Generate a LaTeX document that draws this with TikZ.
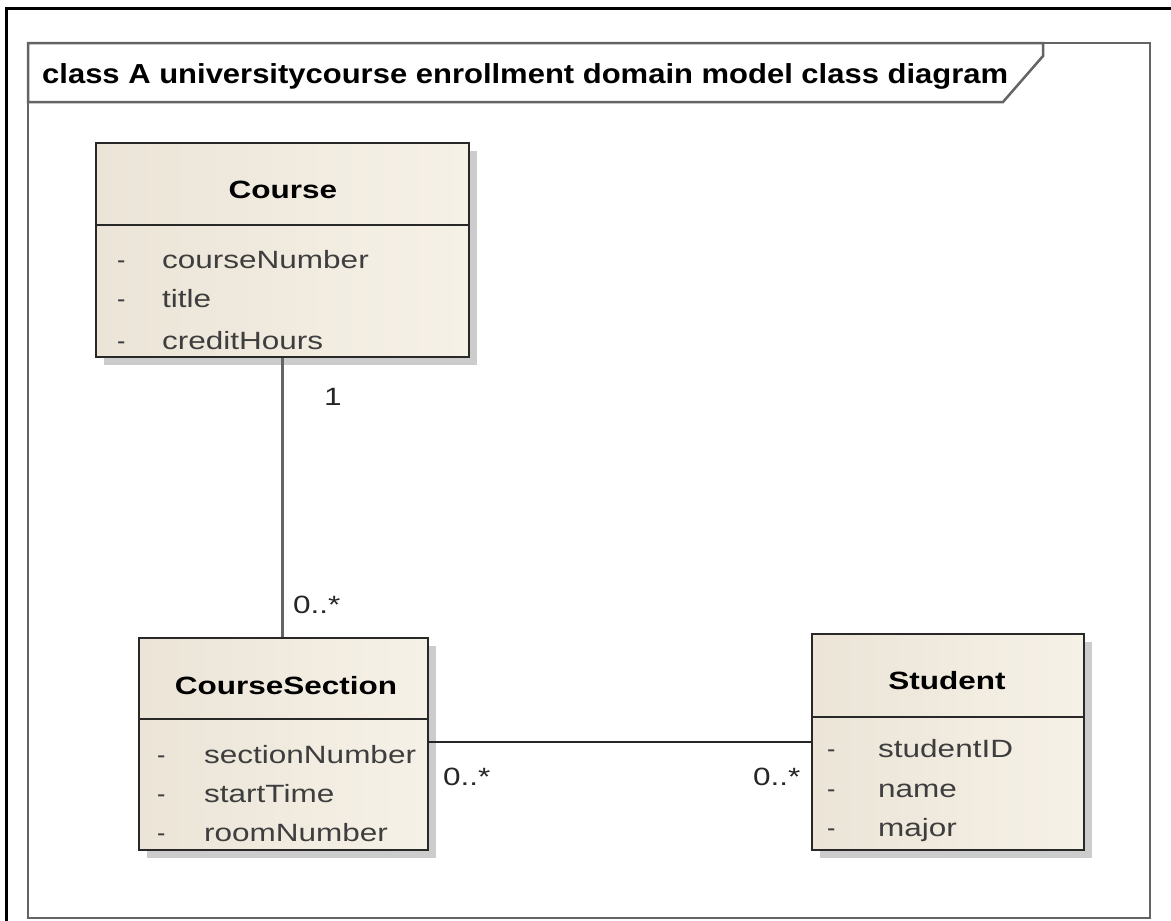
\documentclass[tikz,border=0pt]{standalone}
\usepackage{fontspec}
\setmainfont{Liberation Sans}
\usetikzlibrary{shadows}

\definecolor{frameGray}{RGB}{100,100,100}
\definecolor{boxEdge}{RGB}{40,40,40}
\definecolor{boxLeft}{RGB}{235,228,215}
\definecolor{boxRight}{RGB}{246,241,231}
\definecolor{attrText}{RGB}{62,62,62}
\definecolor{linkGray}{RGB}{100,100,100}

% horizontally widened text, as the class boxes set it
\newcommand{\wide}[1]{\scalebox{1.26}[1]{#1}}

\begin{document}
\begin{tikzpicture}[x=1pt,y=-1pt,
  classbox/.style={draw=boxEdge, line width=2pt, left color=boxLeft, right color=boxRight,
    anchor=north west, inner sep=0pt,
    drop shadow={shadow xshift=8pt, shadow yshift=-8pt, fill=black!50, opacity=0.4}},
  divider/.style={draw=boxEdge, line width=1.6pt},
  classname/.style={anchor=base, font=\fontsize{25}{25}\selectfont\bfseries, text=black, inner sep=0pt},
  attr/.style={anchor=base west, font=\fontsize{25}{25}\selectfont, text=attrText, inner sep=0pt},
  mult/.style={anchor=base west, font=\fontsize{25}{25}\selectfont, text=black!85, inner sep=0pt},
  assoc/.style={line width=1.6pt, draw=black!85},
  assocgray/.style={line width=3pt, draw=linkGray}
]
\useasboundingbox (0,0) rectangle (1171,921);
\fill[white] (0,0) rectangle (1171,921);

% outer page border
\draw[line width=3pt, line cap=rect] (6,921) -- (6,8) -- (1171,8);

% diagram frame and its name tab
\draw[frameGray, line width=2.5pt] (28,43) rectangle (1150,918);
\draw[frameGray, line width=2.5pt, fill=white] (28,43) -- (1043,43) -- (1043,56) -- (1003,102) -- (28,102) -- cycle;
\node[anchor=base west, inner sep=0pt, text=black] (title) at (42,83)
  {\resizebox{966pt}{\height}{\fontsize{27.5}{27.5}\selectfont\bfseries class A universitycourse enrollment domain model class diagram}};

% class Course
\node[classbox, minimum width=373pt, minimum height=214pt] (course) at (95,142) {};
\draw[divider] ([yshift=-83pt]course.north west) -- ([yshift=-83pt]course.north east);
\node[classname] (courseName) at (283,198) {\wide{Course}};
\node[attr] (c1d) at (117,268) {-};
\node[attr] (c1) at (162,268) {\wide{courseNumber}};
\node[attr] (c2d) at (117,307) {-};
\node[attr] (c2) at (162,307) {\wide{title}};
\node[attr] (c3d) at (117,349) {-};
\node[attr] (c3) at (162,349) {\wide{creditHours}};

% class CourseSection
\node[classbox, minimum width=289pt, minimum height=212pt] (section) at (138,637) {};
\draw[divider] ([yshift=-82pt]section.north west) -- ([yshift=-82pt]section.north east);
\node[classname] (sectionName) at (286,694) {\wide{CourseSection}};
\node[attr] (s1d) at (157,763) {-};
\node[attr] (s1) at (204,763) {\wide{sectionNumber}};
\node[attr] (s2d) at (157,802) {-};
\node[attr] (s2) at (204,802) {\wide{startTime}};
\node[attr] (s3d) at (157,841) {-};
\node[attr] (s3) at (204,841) {\wide{roomNumber}};

% class Student
\node[classbox, minimum width=272pt, minimum height=216pt] (student) at (811,633) {};
\draw[divider] ([yshift=-84pt]student.north west) -- ([yshift=-84pt]student.north east);
\node[classname] (studentName) at (947,689) {\wide{Student}};
\node[attr] (t1d) at (827,757) {-};
\node[attr] (t1) at (878,757) {\wide{studentID}};
\node[attr] (t2d) at (827,797) {-};
\node[attr] (t2) at (878,797) {\wide{name}};
\node[attr] (t3d) at (827,836) {-};
\node[attr] (t3) at (878,836) {\wide{major}};

% associations
\coordinate (cs) at (282,0);
\draw[assocgray] (course.south -| cs) -- (section.north -| cs);
\coordinate (hs) at (0,742);
\draw[assoc] (section.east |- hs) -- (student.west |- hs);

% multiplicities
\node[mult] (m1) at (324,405) {\wide{1}};
\node[mult] (m2) at (293,613) {\wide{0..*}};
\node[mult] (m3) at (443,785) {\wide{0..*}};
\node[mult] (m4) at (753,785) {\wide{0..*}};
\end{tikzpicture}
\end{document}
